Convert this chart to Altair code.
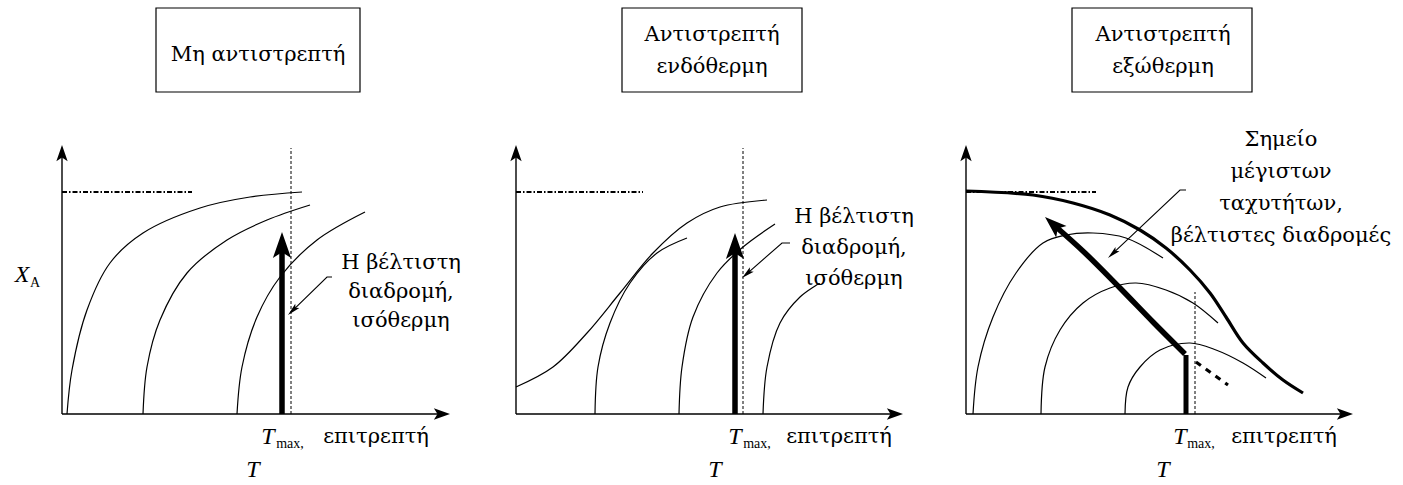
import math
import altair as alt
import pandas as pd

W, H = 1403, 485
FONT = "DejaVu Serif"
LATIN = "Liberation Serif"

# Origin of each panel's T–X_A axes, in chart units (y measured upward)
ORIGINS = [(62, 71), (516, 71), (966, 71)]
AXIS_T_END = [388, 387, 387]
AXIS_X_END = 269

# ---- panel 1: irreversible reaction -------------------------------------
p1_curves = [
    [(5, 0), (10, 44), (25, 104), (48, 151), (81, 181), (138, 206), (188, 217), (240, 222)],
    [(81, 0), (85, 47), (98, 94), (125, 141), (165, 174), (205, 194), (248, 209)],
    [(175, 0), (180, 47), (195, 97), (218, 137), (255, 174), (303, 202)],
]
p1_limit = [(0, 222), (130, 222)]
p1_tmax = [(229, 0), (229, 266)]
p1_path = [(220, 0), (220, 182)]
p1_pointer = [(270, 137), (265, 137), (226, 99)]

# ---- panel 2: reversible endothermic -------------------------------------
p2_curves = [
    [(0, 27), (37, 47), (71, 81), (104, 121), (137, 161), (171, 191), (204, 207), (251, 214)],
    [(79, 0), (82, 47), (94, 91), (114, 131), (141, 161), (171, 176)],
    [(163, 0), (166, 47), (177, 97), (201, 141), (227, 167), (259, 190)],
    [(247, 0), (251, 47), (264, 91), (284, 117), (304, 131)],
]
p2_limit = [(0, 222), (127, 222)]
p2_tmax = [(227, 0), (227, 266)]
p2_path = [(219, 0), (219, 181)]
p2_pointer = [(274, 171), (266, 171), (226, 136)]

# ---- panel 3: reversible exothermic --------------------------------------
p3_equilibrium = [(0, 223), (67, 219), (107, 211), (144, 199), (174, 184), (200, 166),
                  (224, 144), (244, 121), (260, 97), (277, 71), (297, 51), (317, 34), (337, 21)]
p3_curves = [
    [(7, 0), (12, 47), (27, 97), (50, 141), (77, 171), (100, 179), (127, 181), (160, 176), (197, 156)],
    [(75, 0), (79, 47), (94, 84), (117, 111), (144, 126), (170, 131), (200, 124), (227, 111), (252, 91)],
    [(159, 0), (162, 27), (174, 47), (194, 64), (224, 71), (250, 64), (277, 51), (300, 36)],
]
p3_limit = [(0, 222), (130, 222)]
p3_tmax = [(229, 0), (229, 122)]
p3_vertical = [(220, 0), (220, 59)]
p3_path = [(219, 60), (187, 92), (154, 126), (119, 161), (79, 197)]
p3_beyond = [(230, 52), (262, 29)]
p3_pointer = [(220, 224), (214, 224), (142, 156)]

# ---- labels ----------------------------------------------------------------
titles = [["Μη αντιστρεπτή"], ["Αντιστρεπτή", "ενδόθερμη"], ["Αντιστρεπτή", "εξώθερμη"]]
title_boxes = [(94, 298, 322, 406), (106, 286, 322, 406), (106, 286, 322, 406)]
title_centres = [196, 196, 197]
notes = [
    ["Η βέλτιστη", "διαδρομή,", "ισόθερμη"],
    ["Η βέλτιστη", "διαδρομή,", "ισόθερμη"],
    ["Σημείο", "μέγιστων", "ταχυτήτων,", "βέλτιστες διαδρομές"],
]
note_anchor = [(339, 151), (338, 197), (315, 274)]
note_step = [29, 31, 32]
tmax_x = [(206, 228, 314), (219, 241, 323), (214, 235, 318)]
t_axis_x = [191, 199, 197]

xs = alt.Scale(domain=[0, W], nice=False, zero=False)
ys = alt.Scale(domain=[0, H], nice=False, zero=False)
X = alt.X("x:Q", scale=xs, axis=None)
Y = alt.Y("y:Q", scale=ys, axis=None)

# arrowhead outlines, tip at the origin, pointing up
HEAD = "M0,0L0.7,2L0,1.55L-0.7,2Z"
HEAD_NARROW = "M0,0L0.45,2L0,1.6L-0.45,2Z"


def place(panel, pts):
    ox, oy = ORIGINS[panel]
    return [(ox + t, oy + v) for t, v in pts]


def rows_of(paths):
    rows = []
    for g, pts in enumerate(paths):
        for i, (x, y) in enumerate(pts):
            rows.append({"g": g, "i": i, "x": x, "y": y})
    return pd.DataFrame(rows)


def lines(paths, width, dash=None, interp="linear"):
    kw = dict(color="black", strokeWidth=width, interpolate=interp)
    if dash:
        kw["strokeDash"] = dash
    return alt.Chart(rows_of(paths)).mark_line(**kw).encode(
        x=X, y=Y, detail="g:N", order="i:Q")


def heading(p, q):
    return math.degrees(math.atan2(q[0] - p[0], q[1] - p[1])) % 360


def trimmed(pts, back):
    # stop a shaft short of its tip so the arrowhead covers the end
    (x0, y0), (x1, y1) = pts[-2], pts[-1]
    d = math.hypot(x1 - x0, y1 - y0)
    return pts[:-1] + [(x1 - (x1 - x0) * back / d, y1 - (y1 - y0) * back / d)]


def heads(paths, shape, size):
    rows = [{"x": p[-1][0], "y": p[-1][1], "a": heading(p[-2], p[-1])} for p in paths]
    return alt.Chart(pd.DataFrame(rows)).mark_point(
        shape=shape, size=size, filled=True, color="black", opacity=1, strokeWidth=0
    ).encode(x=X, y=Y, angle=alt.Angle("a:Q", scale=None))


def texts(items, size, style="normal", font=FONT):
    df = pd.DataFrame([{"x": x, "y": y, "t": t} for x, y, t in items])
    return alt.Chart(df).mark_text(
        font=font, fontSize=size, fontStyle=style, color="black",
        align="center", baseline="middle"
    ).encode(x=X, y=Y, text="t:N")


thin, limits, tmaxes, pointers, axes_y, axes_t = [], [], [], [], [], []
for k, (curves, limit, tmax, pointer) in enumerate([
        (p1_curves, p1_limit, p1_tmax, p1_pointer),
        (p2_curves, p2_limit, p2_tmax, p2_pointer),
        (p3_curves, p3_limit, p3_tmax, p3_pointer)]):
    thin += [place(k, c) for c in curves]
    limits.append(place(k, limit))
    tmaxes.append(place(k, tmax))
    pointers.append(place(k, pointer))
    axes_y.append(place(k, [(0, 0), (0, AXIS_X_END)]))
    axes_t.append(place(k, [(0, 0), (AXIS_T_END[k], 0)]))

bold_paths = [place(0, p1_path), place(1, p2_path)]
p3_arrow = place(2, p3_path)

layers = []

# title boxes
box_df = pd.DataFrame([
    {"x": ORIGINS[k][0] + b[0], "x2": ORIGINS[k][0] + b[1],
     "y": ORIGINS[k][1] + b[2], "y2": ORIGINS[k][1] + b[3]}
    for k, b in enumerate(title_boxes)])
layers.append(alt.Chart(box_df).mark_rect(fill="white", stroke="black", strokeWidth=1.2).encode(
    x=X, x2="x2:Q", y=Y, y2="y2:Q"))

# axes with arrowheads
layers.append(lines([trimmed(a, 8) for a in axes_y + axes_t], 1.4))
layers.append(heads(axes_y + axes_t, HEAD, 260))

# reference lines
layers.append(lines(limits, 1.8, dash=[5, 2, 1.5, 2]))
layers.append(lines(tmaxes, 1, dash=[3, 2]))

# rate curves
layers.append(lines(thin, 1.2, interp="catmull-rom"))
layers.append(lines([place(2, p3_equilibrium)], 3.2, interp="catmull-rom"))

# optimal paths
layers.append(lines([trimmed(p, 18) for p in bold_paths], 5.5))
layers.append(heads(bold_paths, HEAD, 676))
layers.append(lines([place(2, p3_vertical)], 5))
layers.append(lines([trimmed(p3_arrow, 12)], 5.5, interp="catmull-rom"))
layers.append(heads([p3_arrow], HEAD, 484))
layers.append(lines([place(2, p3_beyond)], 3.2, dash=[6, 6]))

# annotation pointers
layers.append(lines([trimmed(p, 6) for p in pointers], 1.1))
layers.append(heads(pointers, HEAD_NARROW, 169))

# text
title_items, note_items, big_items, sub_items, italic_items = [], [], [], [], []
for k in range(3):
    ox, oy = ORIGINS[k]
    lines_k = titles[k]
    if len(lines_k) == 1:
        title_items.append((ox + title_centres[k], oy + 359, lines_k[0]))
    else:
        title_items.append((ox + title_centres[k], oy + 379, lines_k[0]))
        title_items.append((ox + title_centres[k], oy + 347, lines_k[1]))
    nx, ny = note_anchor[k]
    for j, t in enumerate(notes[k]):
        note_items.append((ox + nx, oy + ny - j * note_step[k], t))
    tx, mx, ex = tmax_x[k]
    italic_items.append((ox + tx, oy - 23, "T"))
    sub_items.append((ox + mx, oy - 30, "max,"))
    big_items.append((ox + ex, oy - 23, "επιτρεπτή"))
    italic_items.append((ox + t_axis_x[k], oy - 56, "T"))

italic_items.append((ORIGINS[0][0] - 40, ORIGINS[0][1] + 139, "X"))
sub_items.append((ORIGINS[0][0] - 27, ORIGINS[0][1] + 131, "A"))

layers.append(texts(title_items, 21))
layers.append(texts(note_items, 21))
layers.append(texts(big_items, 21))
layers.append(texts(sub_items, 14, font=LATIN))
layers.append(texts(italic_items, 24, style="italic", font=LATIN))

chart = alt.layer(*layers).properties(
    width=W, height=H, padding=0, autosize=alt.AutoSizeParams(type="none"),
    background="white"
).configure_view(strokeWidth=0)

chart.save("out.html", embed_options={"renderer": "svg", "actions": False})
